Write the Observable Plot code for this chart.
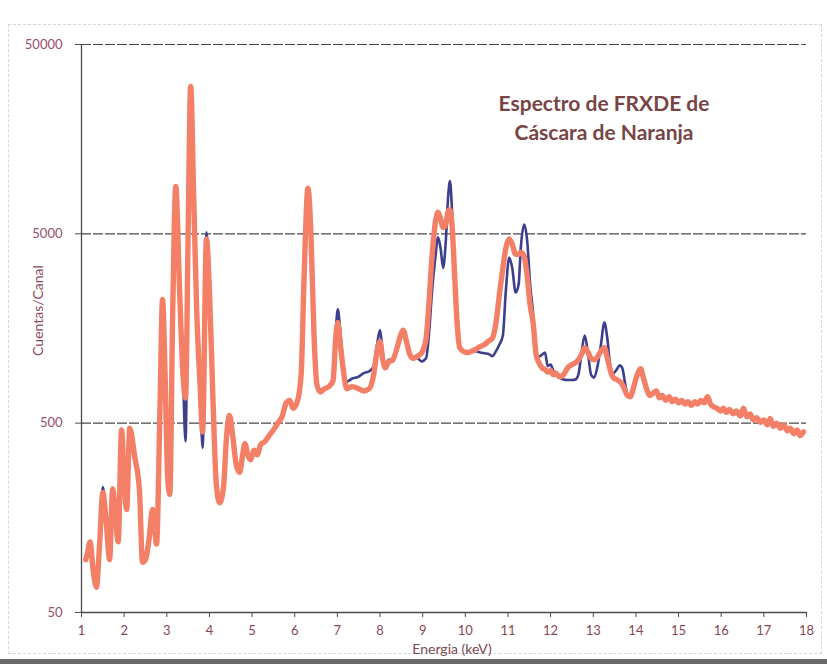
<!DOCTYPE html>
<html>
<head>
<meta charset="utf-8">
<script src="https://cdn.jsdelivr.net/npm/d3@7"></script>
<script src="https://cdn.jsdelivr.net/npm/@observablehq/plot@0.6"></script>
<style>
  body { margin: 0; background: #fff; }
  #wrap { position: relative; width: 827px; height: 664px; overflow: hidden; background: #fff; }
  #border { position: absolute; left: 8px; top: 24px; width: 814px; height: 630px; border: 1px dashed #d6d6d6; box-sizing: border-box; }
  #shadow { position: absolute; left: 0; top: 659px; width: 827px; height: 5px; background: #6a6a6a; }
  #chart { position: absolute; left: 0; top: 0; }
</style>
</head>
<body>
<div id="wrap"><div id="border"></div><div id="chart"></div><div id="shadow"></div></div>
<script>
// ---- data ----
const titleText = "Espectro de FRXDE de\nCáscara de Naranja";
const xLabel = "Energia (keV)";
const yLabel = "Cuentas/Canal";
const xTicks = [1,2,3,4,5,6,7,8,9,10,11,12,13,14,15,16,17,18];
const yTicks = [50, 500, 5000, 50000];

const energyKeV = [
  1.10,1.15,1.20,1.27,1.35,1.42,1.50,1.58,1.66,1.73,1.80,1.86,1.94,2.00,2.06,2.13,2.25,2.36,2.43,2.50,
  2.58,2.67,2.76,2.84,2.90,2.96,3.02,3.07,3.14,3.21,3.30,3.38,3.44,3.50,3.56,3.63,3.70,3.78,3.84,3.93,
  4.00,4.08,4.16,4.24,4.33,4.40,4.47,4.55,4.63,4.71,4.77,4.83,4.90,4.96,5.05,5.12,5.20,5.30,5.40,5.50,
  5.60,5.70,5.80,5.88,5.96,6.05,6.15,6.22,6.31,6.38,6.45,6.52,6.60,6.70,6.80,6.90,6.96,7.01,7.07,7.14,
  7.22,7.35,7.50,7.62,7.75,7.85,7.93,8.00,8.06,8.12,8.20,8.30,8.40,8.48,8.54,8.62,8.70,8.78,8.88,8.98,
  9.08,9.15,9.22,9.30,9.36,9.42,9.48,9.54,9.60,9.64,9.69,9.75,9.80,9.87,9.95,10.05,10.15,10.25,10.35,10.45,
  10.55,10.63,10.72,10.80,10.88,10.95,11.03,11.10,11.18,11.25,11.30,11.38,11.45,11.52,11.59,11.66,11.72,11.80,11.87,11.93,
  12.00,12.06,12.12,12.20,12.30,12.40,12.50,12.58,12.65,12.72,12.80,12.88,12.95,13.02,13.10,13.18,13.26,13.33,13.40,13.47,
  13.55,13.62,13.68,13.75,13.80,13.87,13.95,14.03,14.11,14.18,14.25,14.32,14.40,14.48,14.55,14.62,14.70,14.78,14.85,14.93,
  15.00,15.08,15.15,15.22,15.30,15.38,15.45,15.52,15.60,15.68,15.75,15.82,15.90,15.98,16.05,16.12,16.20,16.28,16.35,16.45,
  16.52,16.60,16.68,16.75,16.83,16.92,17.00,17.08,17.15,17.22,17.30,17.39,17.47,17.55,17.62,17.70,17.78,17.85,17.93
];

// orange (salmon) spectrum
const countsOrange = [
  95,105,118,85,68,110,215,150,95,225,160,118,460,250,175,470,330,220,92,95,
  120,175,115,600,2250,900,260,210,2000,8900,2500,900,680,5000,30000,8000,2000,800,450,4700,
  2500,700,240,190,230,420,550,420,300,275,330,390,340,320,360,340,385,400,430,460,
  500,540,640,660,600,640,900,3000,8700,5000,1500,800,730,760,780,840,1400,1700,1300,950,
  760,780,760,740,760,900,1200,1350,1100,980,1050,1080,1250,1450,1550,1350,1150,1100,1130,1180,
  1400,2200,3800,5800,6500,6000,5400,5600,6600,6700,5500,3000,1800,1250,1200,1180,1200,1230,1270,1300,
  1360,1400,1700,2400,3300,4200,4700,4400,3900,3900,4000,3800,3000,2100,1700,1150,1050,980,960,930,
  950,900,920,880,900,980,1020,1040,1080,1150,1250,1180,1100,1080,1120,1200,1250,1100,950,870,
  850,830,800,740,700,690,780,900,970,860,760,700,720,740,680,700,660,690,650,670,
  640,660,630,650,620,650,630,660,640,690,630,610,600,580,600,570,590,560,580,545,
  600,540,560,520,535,505,520,490,530,480,500,470,490,455,470,440,460,430,450
];

// dark blue spectrum (hidden under the orange one beyond ~13.8 keV)
const countsBlue = [
  95,105,118,78,68,110,230,150,95,225,160,118,460,250,175,470,330,220,92,95,
  120,175,115,600,2250,900,260,210,2000,8900,2500,900,400,5000,30000,8000,2000,800,370,5100,
  2500,700,240,190,230,420,550,420,300,275,330,390,340,320,360,340,385,400,430,460,
  500,540,640,660,600,640,900,3000,8700,5000,1500,800,730,760,780,840,1500,2000,1500,1000,
  830,860,880,920,940,1000,1300,1550,1200,1000,1080,1090,1250,1450,1550,1350,1150,1110,1100,1060,
  1100,1500,2500,3800,4800,4200,3300,4500,8000,9500,6500,3000,1800,1250,1200,1180,1200,1200,1180,1170,
  1160,1130,1200,1300,1450,2500,3750,3300,2450,2700,4200,5600,4600,2700,1900,1200,1120,1150,1180,1000,
  1020,950,920,880,850,845,845,850,900,1150,1450,1150,900,870,1000,1300,1700,1400,1000,920,
  960,1010,980,800,700
];

// ---- build ----
const orange = energyKeV.map((e, i) => ({e, v: countsOrange[i]}));
const blue = countsBlue.map((v, i) => ({e: energyKeV[i], v}));

const chart = Plot.plot({
  width: 827,
  height: 664,
  marginLeft: 81,
  marginRight: 21,
  marginTop: 44,
  marginBottom: 52,
  style: {fontFamily: "Lato, 'Open Sans', sans-serif", background: "transparent"},
  x: {domain: [1, 18]},
  y: {type: "log", domain: [50, 50000]},
  marks: [
    Plot.ruleY(yTicks.slice(1), {stroke: "#4a4a4a", strokeWidth: 1.2, strokeDasharray: "10,2"}),
    Plot.ruleY([50], {stroke: "#4a4a4a", strokeWidth: 1.3}),
    Plot.ruleX([1], {stroke: "#4a4a4a", strokeWidth: 1.3}),
    Plot.axisX({ticks: xTicks, tickSize: 5, tickPadding: 8, fontSize: 13, stroke: "#4a4a4a", fill: "#8a4550", tickFormat: d => String(d), label: null}),
    Plot.axisY({ticks: yTicks, tickSize: 6, tickFormat: () => "", stroke: "#4a4a4a", label: null}),
    Plot.text(yTicks, {y: d => d, frameAnchor: "left", dx: -19, textAnchor: "end", text: d => String(d), fontSize: 13, fill: "#95506a"}),
    Plot.line(blue, {x: "e", y: "v", stroke: "#3c3f8e", strokeWidth: 2.6, curve: "monotone-x", strokeLinejoin: "round"}),
    Plot.line(orange, {x: "e", y: "v", stroke: "#f47f67", strokeWidth: 5.4, curve: "monotone-x", strokeLinejoin: "round", strokeLinecap: "round"}),
    Plot.text([titleText], {frameAnchor: "top", dx: 160, dy: 72, lineAnchor: "middle", text: d => d, fontSize: 21, fontWeight: "bold", lineHeight: 1.35, fill: "#774545"}),
    Plot.text([xLabel], {frameAnchor: "bottom", dx: 8, dy: 37, lineAnchor: "middle", text: d => d, fontSize: 14, fill: "#7a4a55"}),
    Plot.text([yLabel], {frameAnchor: "left", dx: -43, dy: -18, rotate: -90, textAnchor: "middle", lineAnchor: "middle", text: d => d, fontSize: 14, fill: "#8a4a62"})
  ]
});
document.getElementById("chart").appendChild(chart);
</script>
</body>
</html>
